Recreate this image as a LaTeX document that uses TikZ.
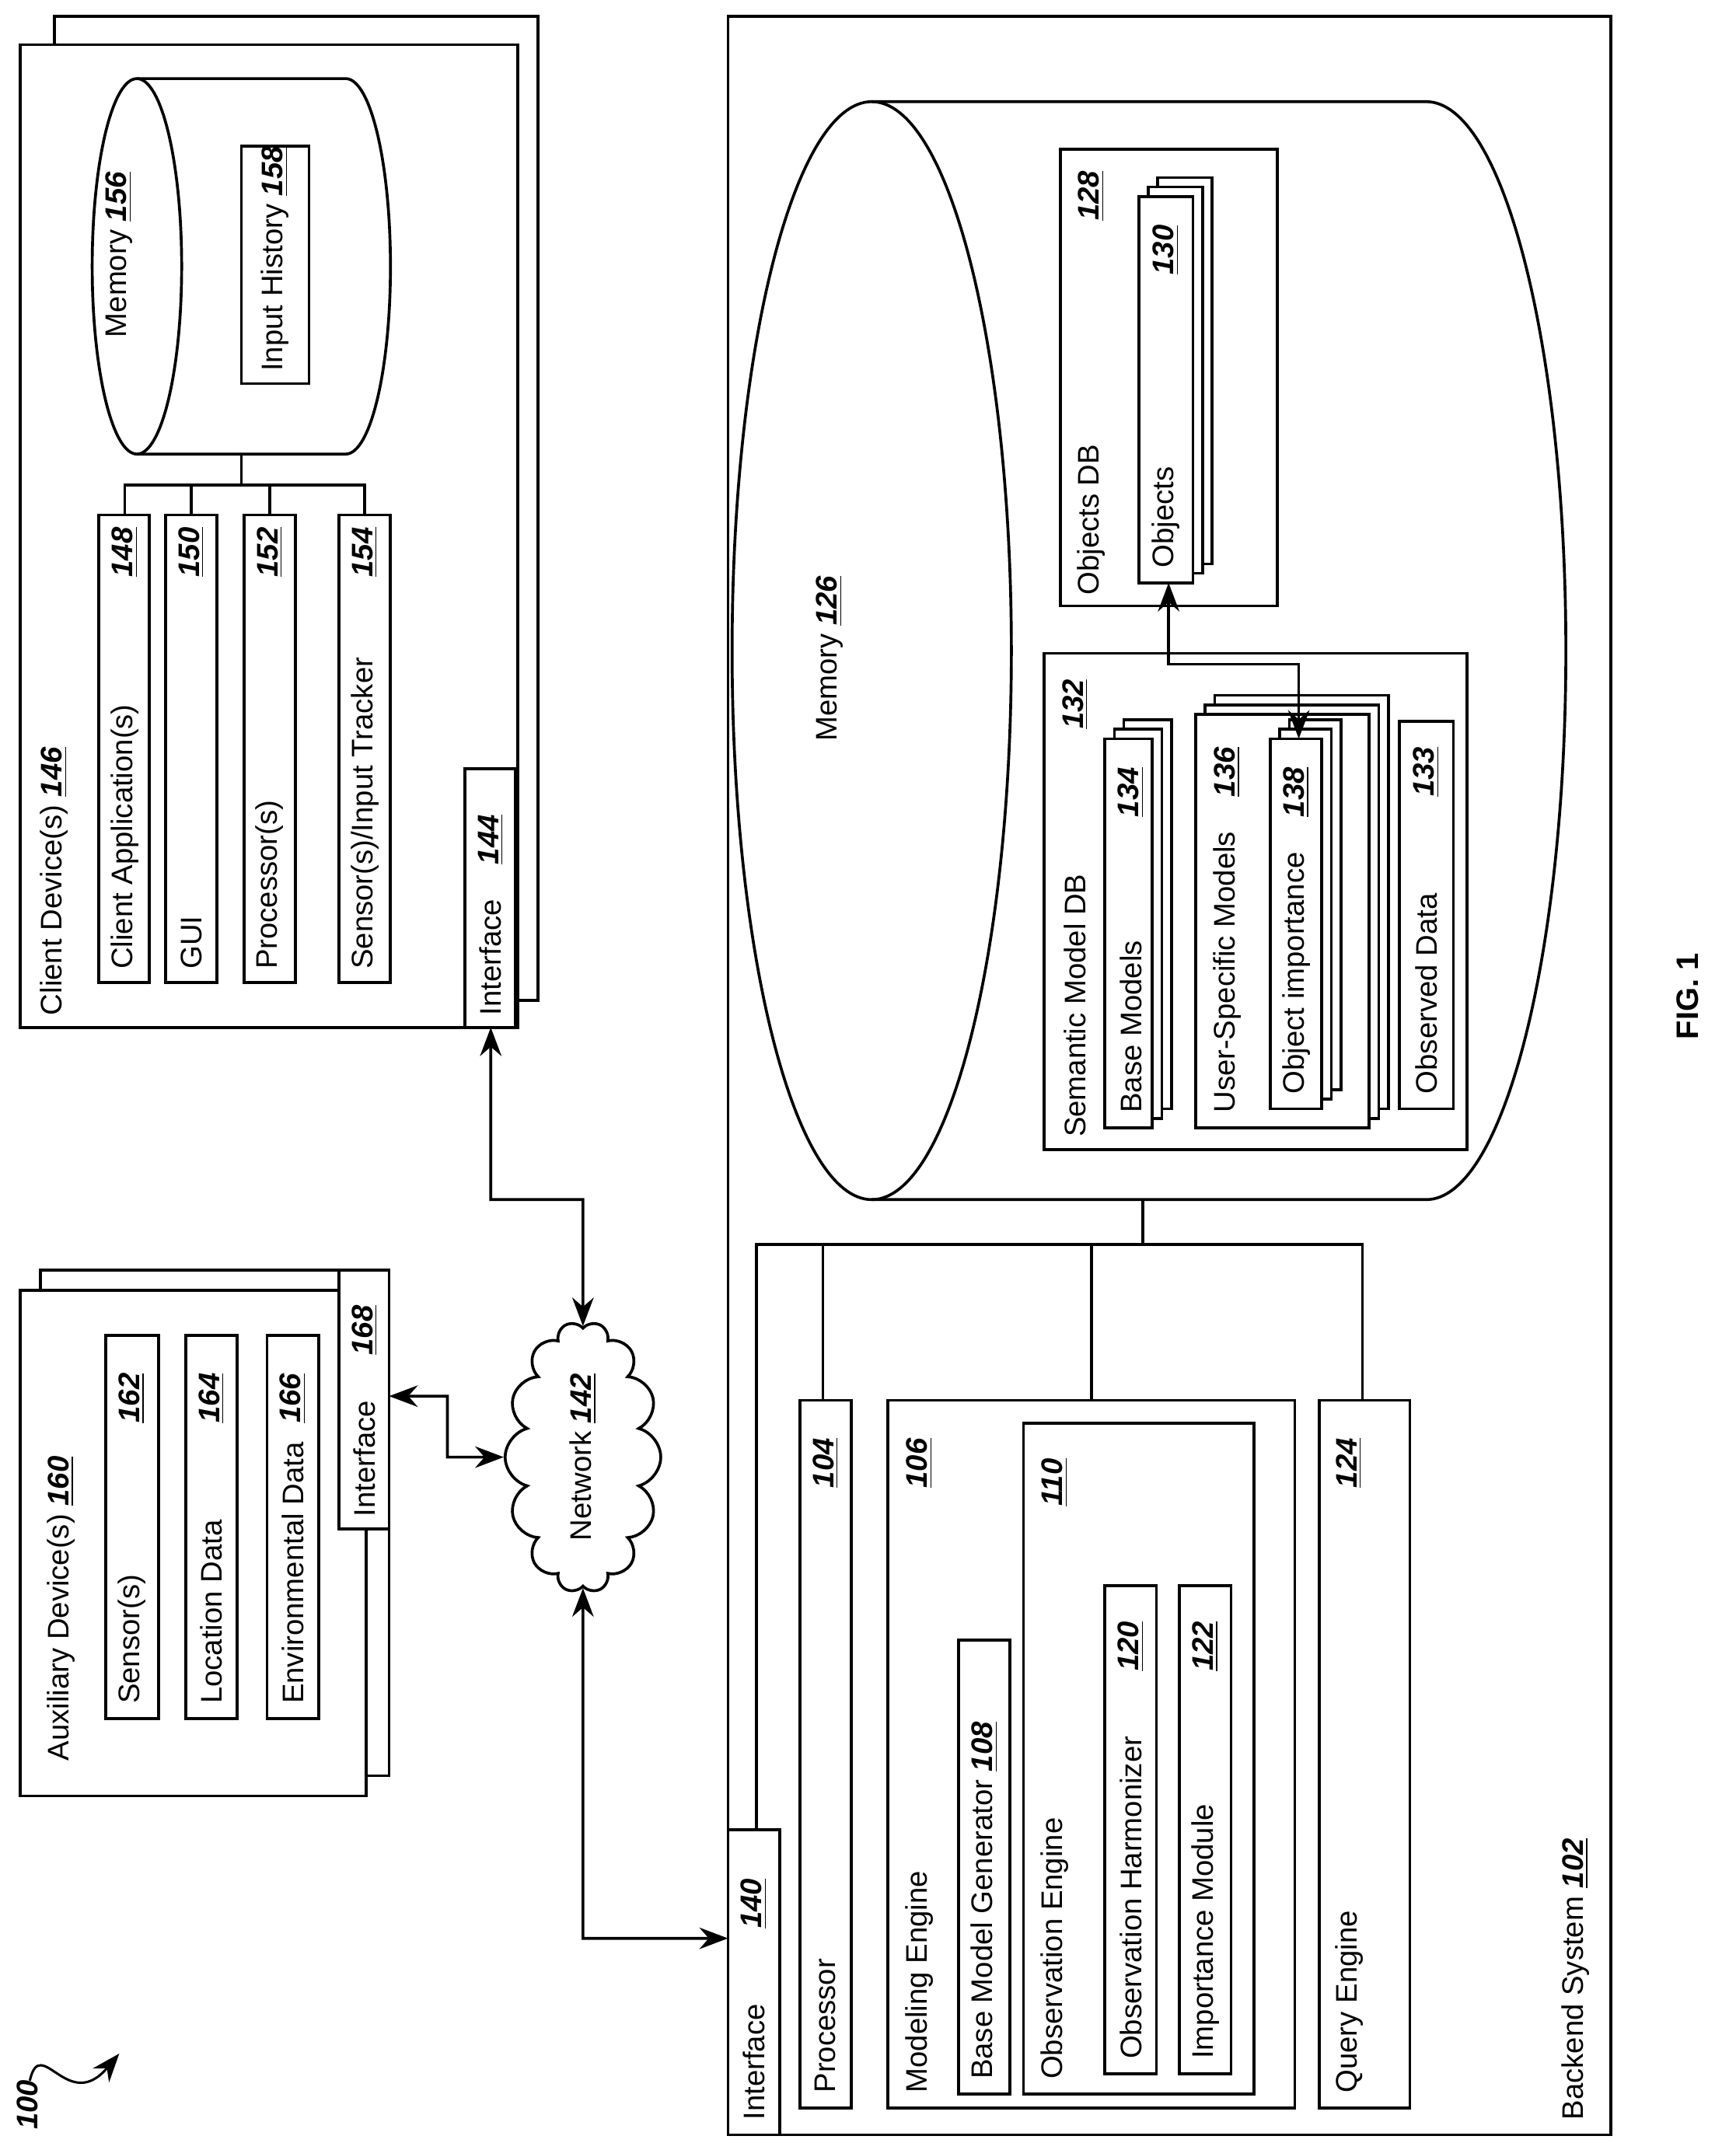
\documentclass[tikz,border=0pt]{standalone}
\usepackage{fontspec}
\setmainfont{Liberation Sans}
\usetikzlibrary{shapes.symbols,arrows.meta}
\newcommand{\nm}[1]{\underline{\textbf{\textit{#1}}}}
\begin{document}
\begin{tikzpicture}[x=0.02cm,y=-0.02cm,line width=1.2pt,
  lbl/.style={rotate=90,anchor=west,inner sep=0pt,font=\fontsize{12.5}{15}\selectfont},
  num/.style={rotate=90,anchor=east,inner sep=0pt,font=\fontsize{12.5}{15}\selectfont},
  bx/.style={draw,fill=white},
  conn/.style={{Stealth[length=12pt,width=9pt]}-{Stealth[length=12pt,width=9pt]}}]
\useasboundingbox (0,0) rectangle (1280,1581);
% ---------- Client devices
\draw[bx] (40,12) rectangle (397,738);
\draw[bx] (15,33) rectangle (382,758);
\node[lbl] (cdl) at (40,750) {Client Device(s) \nm{146}};
\draw[bx] (73,380) rectangle (110,725);
\node[lbl] (ca) at (92,716) {Client Application(s)}; \node[num] (can) at (92,388) {\nm{148}};
\draw[bx] (122,380) rectangle (160,725);
\node[lbl] (gui) at (141,716) {GUI}; \node[num] (guin) at (141,388) {\nm{150}};
\draw[bx] (180,380) rectangle (218,725);
\node[lbl] (pr) at (199,716) {Processor(s)}; \node[num] (prn) at (199,388) {\nm{152}};
\draw[bx] (250,380) rectangle (288,725);
\node[lbl] (st) at (269,716) {Sensor(s)/Input Tracker}; \node[num] (stn) at (269,388) {\nm{154}};
% memory 156
\draw[fill=white] (101,58) -- (255,58) arc[start angle=-90,end angle=90,x radius=33,y radius=138.5] -- (101,335);
\draw[fill=white] (101,196.5) ellipse[x radius=33,y radius=138.5];
\coordinate (m156) at (178,335);
\node[lbl] (m156l) at (88,250) {Memory \nm{156}};
\draw[bx] (178,108) rectangle (228,283);
\node[lbl] (ih) at (203,275) {Input History \nm{158}};
\draw (m156) -- (178,358);
\draw (92,380) -- (92,358) -- (269,358) -- (269,380);
\draw (141,358) -- (141,380); \draw (199,358) -- (199,380);
\draw[bx] (343,567) rectangle (380,758);
\node[lbl] (if144) at (362,750) {Interface}; \node[num] (if144n) at (362,600) {\nm{144}};
\coordinate (i144) at (362,758);
% ---------- Auxiliary
\draw[bx] (30,937) rectangle (287,1310);
\draw[bx] (15,952) rectangle (270,1325);
\node[lbl] (aux) at (45,1300) {Auxiliary Device(s) \nm{160}};
\draw[bx] (78,985) rectangle (117,1268);
\node[lbl] (s162) at (97,1258) {Sensor(s)}; \node[num] (s162n) at (97,1012) {\nm{162}};
\draw[bx] (137,985) rectangle (175,1268);
\node[lbl] (l164) at (156,1258) {Location Data}; \node[num] (l164n) at (156,1012) {\nm{164}};
\draw[bx] (197,985) rectangle (235,1268);
\node[lbl] (e166) at (216,1258) {Environmental Data}; \node[num] (e166n) at (216,1012) {\nm{166}};
\draw[bx] (250,937) rectangle (287,1128);
\node[lbl] (if168) at (269,1120) {Interface}; \node[num] (if168n) at (269,962) {\nm{168}};
\coordinate (i168) at (287,1030);
% ---------- Network
\node[cloud,draw,cloud puffs=14,aspect=2,rotate=90,minimum width=4cm,minimum height=2.1cm,inner sep=0pt,font=\fontsize{12.5}{15}\selectfont] (net) at (430,1075) {Network \nm{142}};
\draw[conn] (i144) -- (362,885) -- (430,885) -- (net.east);
\draw[conn] (i168) -- (330,1030) -- (330,1075) -- (net.north);
% ---------- Backend
\draw (537,12) rectangle (1188,1575);
\node[lbl] (bs) at (1162,1565) {Backend System \nm{102}};
\draw[bx] (537,1350) rectangle (575,1575);
\node[lbl] (if140) at (556,1565) {Interface}; \node[num] (if140n) at (556,1385) {\nm{140}};
\coordinate (i140) at (537,1430);
\draw[conn] (net.west) -- (430,1430) -- (i140);
% memory 126
\draw (643,75) -- (1052,75) arc[start angle=-90,end angle=90,x radius=103,y radius=405] -- (643,885);
\draw (643,480) ellipse[x radius=103,y radius=405];
\coordinate (m126) at (843,885);
\node[lbl] (m126l) at (612,548) {Memory \nm{126}};
% bus
\draw (m126) -- (843,918);
\draw (558,1350) -- (558,918) -- (1005,918) -- (1005,1033);
\draw (607,918) -- (607,1033); \draw (805,918) -- (805,1033);
\draw (590,1033) rectangle (628,1555);
\node[lbl] (p104) at (609,1545) {Processor}; \node[num] (p104n) at (609,1060) {\nm{104}};
\draw (655,1033) rectangle (955,1555);
\node[lbl] (me) at (678,1545) {Modeling Engine}; \node[num] (men) at (678,1060) {\nm{106}};
\draw (707,1210) rectangle (745,1545);
\node[lbl] (bmg) at (726,1535) {Base Model Generator \nm{108}};
\draw (755,1050) rectangle (925,1545);
\node[lbl] (oe) at (778,1535) {Observation Engine}; \node[num] (oen) at (778,1075) {\nm{110}};
\draw (815,1170) rectangle (853,1530);
\node[lbl] (oh) at (834,1520) {Observation Harmonizer}; \node[num] (ohn) at (834,1195) {\nm{120}};
\draw (870,1170) rectangle (908,1530);
\node[lbl] (im) at (889,1520) {Importance Module}; \node[num] (imn) at (889,1195) {\nm{122}};
\draw (973,1033) rectangle (1040,1555);
\node[lbl] (qe) at (995,1545) {Query Engine}; \node[num] (qen) at (995,1060) {\nm{124}};
% Objects DB
\draw[bx] (782,110) rectangle (942,447);
\node[lbl] (odb) at (805,440) {Objects DB}; \node[num] (odbn) at (805,125) {\nm{128}};
\draw[bx] (854,131) rectangle (894,416);
\draw[bx] (847,138) rectangle (887,423);
\draw[bx] (840,145) rectangle (880,430);
\node[lbl] (ob) at (860,420) {Objects}; \node[num] (obn) at (860,165) {\nm{130}};
\coordinate (o130) at (862,430);
% Semantic Model DB
\draw[bx] (770,482) rectangle (1082,848);
\node[lbl] (smdb) at (793,840) {Semantic Model DB}; \node[num] (smdbn) at (793,500) {\nm{132}};
\draw[bx] (829,531) rectangle (864,818);
\draw[bx] (822,538) rectangle (857,825);
\draw[bx] (815,545) rectangle (850,832);
\node[lbl] (bm) at (834,822) {Base Models}; \node[num] (bmn) at (834,565) {\nm{134}};
\draw[bx] (896,513) rectangle (1024,818);
\draw[bx] (889,520) rectangle (1017,825);
\draw[bx] (882,527) rectangle (1010,832);
\node[lbl] (usm) at (905,822) {User-Specific Models}; \node[num] (usmn) at (905,550) {\nm{136}};
\draw[bx] (951,531) rectangle (989,804);
\draw[bx] (944,538) rectangle (982,811);
\draw[bx] (937,545) rectangle (975,818);
\node[lbl] (oi) at (956,808) {Object importance}; \node[num] (oin) at (956,565) {\nm{138}};
\coordinate (o138) at (958,545);
\draw[bx] (1032,532) rectangle (1072,818);
\node[lbl] (od) at (1052,808) {Observed Data}; \node[num] (odn) at (1052,550) {\nm{133}};
\draw[conn] (o130) -- (862,490) -- (958,490) -- (o138);
% FIG and 100
\node[rotate=90,font=\fontsize{13}{15}\selectfont\bfseries] (fig) at (1245,735) {FIG. 1};
\node[rotate=90,anchor=west,font=\fontsize{12.5}{15}\selectfont\bfseries\itshape] (n100) at (20,1578) {100};
\coordinate (a100) at (88,1515);
\draw[-{Stealth[length=12pt,width=9pt]},line width=1pt] (22,1535) .. controls (30,1500) and (50,1560) .. (a100);
\end{tikzpicture}
\end{document}
